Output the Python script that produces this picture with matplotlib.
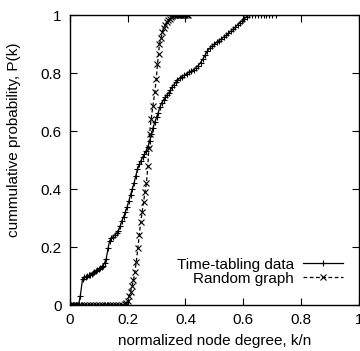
import matplotlib
matplotlib.use("Agg")
import matplotlib.pyplot as plt

plt.rcParams['font.family'] = ['Liberation Sans', 'DejaVu Sans']

# time-tabling data: normalized degree k/n vs cumulative P(k)
tt_x = [0.000, 0.005, 0.010, 0.015, 0.020, 0.025, 0.030, 0.036, 0.044, 0.050,
        0.055, 0.060, 0.065, 0.070, 0.075, 0.080, 0.085, 0.090, 0.095, 0.100,
        0.105, 0.110, 0.115, 0.120, 0.126, 0.132, 0.138, 0.144, 0.150, 0.156,
        0.162, 0.168, 0.174, 0.180, 0.186, 0.192, 0.198, 0.204, 0.210, 0.216,
        0.222, 0.228, 0.234, 0.240, 0.246, 0.252, 0.258, 0.264, 0.270, 0.276,
        0.282, 0.288, 0.294, 0.300, 0.306, 0.312, 0.318, 0.324, 0.330, 0.336,
        0.342, 0.348, 0.354, 0.360, 0.366, 0.372, 0.380, 0.388, 0.396, 0.404,
        0.412, 0.420, 0.428, 0.436, 0.444, 0.452, 0.460, 0.468, 0.476, 0.484,
        0.492, 0.500, 0.508, 0.516, 0.524, 0.532, 0.540, 0.548, 0.556, 0.564,
        0.572, 0.580, 0.588, 0.596, 0.604, 0.612, 0.620, 0.630, 0.640, 0.650,
        0.660, 0.670, 0.680, 0.690, 0.700, 0.712]
tt_y = [0.000, 0.000, 0.000, 0.000, 0.000, 0.000, 0.000, 0.030, 0.090, 0.095,
        0.098, 0.100, 0.102, 0.105, 0.108, 0.110, 0.113, 0.116, 0.120, 0.124,
        0.128, 0.132, 0.136, 0.145, 0.160, 0.195, 0.222, 0.230, 0.236, 0.242,
        0.248, 0.256, 0.272, 0.290, 0.305, 0.320, 0.338, 0.358, 0.380, 0.400,
        0.420, 0.445, 0.468, 0.485, 0.498, 0.510, 0.520, 0.532, 0.545, 0.565,
        0.590, 0.612, 0.630, 0.648, 0.664, 0.684, 0.698, 0.708, 0.716, 0.724,
        0.732, 0.742, 0.752, 0.760, 0.768, 0.775, 0.782, 0.788, 0.793, 0.798,
        0.802, 0.807, 0.812, 0.818, 0.826, 0.836, 0.848, 0.862, 0.876, 0.886,
        0.894, 0.900, 0.906, 0.912, 0.918, 0.924, 0.930, 0.937, 0.944, 0.951,
        0.958, 0.966, 0.974, 0.981, 0.988, 0.995, 1.000, 1.000, 1.000, 1.000,
        1.000, 1.000, 1.000, 1.000, 1.000, 1.000]

# random graph
rg_x = [0.000, 0.010, 0.020, 0.030, 0.040, 0.050, 0.060, 0.070, 0.080, 0.090,
        0.100, 0.110, 0.120, 0.130, 0.140, 0.150, 0.160, 0.170, 0.180, 0.190,
        0.195, 0.200, 0.205, 0.210, 0.215, 0.220, 0.225, 0.230, 0.235, 0.240,
        0.245, 0.250, 0.255, 0.260, 0.265, 0.270, 0.273, 0.276, 0.281, 0.287,
        0.294, 0.299, 0.303, 0.307, 0.310, 0.315, 0.320, 0.325, 0.330, 0.335,
        0.340, 0.345, 0.350, 0.355, 0.360, 0.365, 0.370, 0.375, 0.380, 0.385,
        0.390, 0.395, 0.400, 0.405, 0.410]
rg_y = [0.000, 0.000, 0.000, 0.000, 0.000, 0.000, 0.000, 0.000, 0.000, 0.000,
        0.000, 0.000, 0.000, 0.000, 0.000, 0.000, 0.000, 0.000, 0.000, 0.002,
        0.006, 0.015, 0.030, 0.045, 0.065, 0.085, 0.115, 0.150, 0.195, 0.240,
        0.285, 0.320, 0.355, 0.390, 0.420, 0.480, 0.540, 0.590, 0.640, 0.685,
        0.735, 0.780, 0.830, 0.866, 0.900, 0.920, 0.940, 0.955, 0.966, 0.975,
        0.982, 0.988, 0.993, 0.997, 1.000, 1.000, 1.000, 1.000, 1.000, 1.000,
        1.000, 1.000, 1.000, 1.000, 1.000]

ticks = [0, 0.2, 0.4, 0.6, 0.8, 1]
tick_labels = ['0', '0.2', '0.4', '0.6', '0.8', '1']


def main():
    fig = plt.figure(figsize=(3.6, 3.51), dpi=100)
    ax = fig.add_axes([0.194, 0.131, 0.803, 0.826])

    ax.plot(tt_x, tt_y, color='black', lw=0.9, marker='+', ms=5, mew=0.8,
            label='Time-tabling data')
    ax.plot(rg_x, rg_y, color='black', lw=0.9, ls=(0, (3, 2)), marker='x',
            ms=4, mew=0.8, label='Random graph')

    ax.set_xlim(0, 1)
    ax.set_ylim(0, 1)
    ax.set_xticks(ticks)
    ax.set_xticklabels(tick_labels)
    ax.set_yticks(ticks)
    ax.set_yticklabels(tick_labels)
    ax.tick_params(direction='in', top=True, right=True, length=5,
                   width=0.8, labelsize=11, pad=6)
    for s in ax.spines.values():
        s.set_linewidth(1.0)

    ax.set_xlabel('normalized node degree, k/n', fontsize=11, labelpad=5)
    ax.set_ylabel('cummulative probability, P(k)', fontsize=11)
    ax.yaxis.set_label_coords(-0.17, 0.57)

    ax.legend(loc='lower right', bbox_to_anchor=(0.97, 0.04), frameon=False,
              markerfirst=False, fontsize=11, handlelength=2.6,
              handletextpad=0.6, labelspacing=0.0, borderpad=0)

    fig.savefig('out.png', dpi=100)


if __name__ == "__main__":
    main()
